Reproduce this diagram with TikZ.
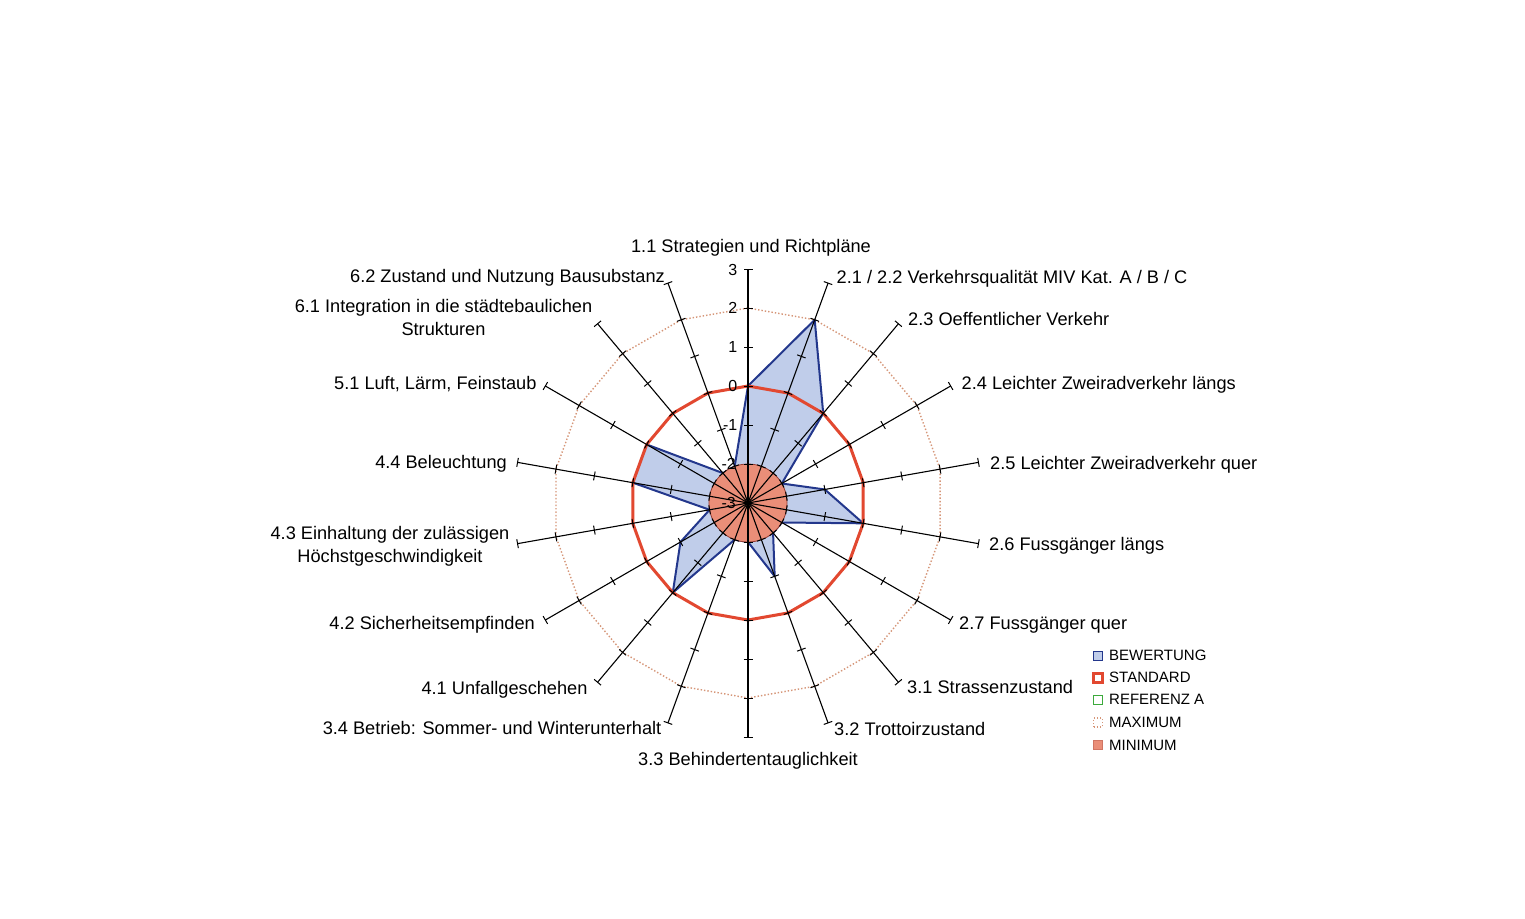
\documentclass[tikz,border=0pt]{standalone}
\usepackage{fontspec}
\setmainfont{Liberation Sans}
\usetikzlibrary{calc}
\definecolor{bewline}{RGB}{35,55,140}
\definecolor{bewfill}{RGB}{192,205,234}
\definecolor{stdred}{RGB}{226,72,48}
\definecolor{maxdot}{RGB}{214,150,120}
\definecolor{minfill}{RGB}{234,142,120}
\definecolor{minline}{RGB}{150,60,50}
\definecolor{refgreen}{RGB}{60,170,60}
\tikzset{
  lab/.style={font=\fontsize{18.2}{22.5}\selectfont, inner sep=0pt},
  ticklab/.style={font=\fontsize{16}{19}\selectfont, inner sep=0pt, anchor=base east},
  leglab/.style={font=\fontsize{15}{18}\selectfont, inner sep=0pt, anchor=base west},
  axisline/.style={black, line width=1.1pt},
  tickline/.style={black, line width=1pt},
  maxline/.style={maxdot, line width=1.4pt, dotted},
  bewpoly/.style={draw=bewline, fill=bewfill, line width=2pt, line join=round},
  stdpoly/.style={draw=stdred, line width=3pt, line join=round},
  minpoly/.style={draw=minline, fill=minfill, line width=0.8pt},
  legbox/.style={minimum size=9pt, inner sep=0pt},
}
\begin{document}
\begin{tikzpicture}[x=1pt,y=-1pt]
\useasboundingbox (0,0) rectangle (1525,918);
\fill[white] (0,0) rectangle (1525,918);
\coordinate (C) at (748,503);
% axis end, standard and maximum coordinates
\foreach \i in {0,...,17} {
  \pgfmathsetmacro\t{20*\i}
  \coordinate (E\i) at ($(C)+({234*sin(\t)},{-234*cos(\t)})$);
  \coordinate (S\i) at ($(C)+({117*sin(\t)},{-117*cos(\t)})$);
  \coordinate (M\i) at ($(C)+({195*sin(\t)},{-195*cos(\t)})$);
}
% Bewertung values
\foreach \v [count=\i from 0] in {0,2,0,-2,-1,0,-2,-2,-1,-2,-2,0,-1,-2,0,0,-2,-2} {
  \pgfmathsetmacro\t{20*\i}
  \pgfmathsetmacro\r{(\v+3)*39}
  \coordinate (B\i) at ($(C)+({\r*sin(\t)},{-\r*cos(\t)})$);
}
% maximum
\draw[maxline] (M0) \foreach \i in {1,...,17} { -- (M\i) } -- cycle;
% bewertung fill
\fill[bewfill] (B0) \foreach \i in {1,...,17} { -- (B\i) } -- cycle;
\draw[bewpoly, fill=none] (B0) \foreach \i in {1,...,17} { -- (B\i) } -- cycle;
% standard
\draw[stdpoly] (S0) \foreach \i in {1,...,17} { -- (S\i) } -- cycle;
% minimum
\draw[minpoly] (C) circle[radius=39];
% axes and ticks
\foreach \i in {0,...,17} {
  \pgfmathsetmacro\t{20*\i}
  \draw[axisline] (C) -- (E\i);
  \foreach \k in {1,...,6} {
    \draw[tickline] ($(C)+({39*\k*sin(\t)+4.5*cos(\t)},{-39*\k*cos(\t)+4.5*sin(\t)})$)
                 -- ($(C)+({39*\k*sin(\t)-4.5*cos(\t)},{-39*\k*cos(\t)-4.5*sin(\t)})$);
  }
}
\fill[black] (C) circle[radius=2.5];
% scale labels
\node[ticklab] (t3) at (737.5,275.7) {3};
\node[ticklab] (t2) at (737.5,313.7) {2};
\node[ticklab] (t1) at (737.5,352.7) {1};
\node[ticklab] (t0) at (737.5,391.7) {0};
\node[ticklab] (tm1) at (737.5,430.7) {-1};
\node[ticklab] (tm2) at (736,469.7) {-2};
\node[ticklab] (tm3) at (736,508.7) {-3};
% axis labels
\node[lab, anchor=base] (l0) at (751,252.5) {1.1 Strategien und Richtpläne};
\node[lab, anchor=base west] (l1) at (836.5,283) {2.1 / 2.2 Verkehrsqualität MIV Kat. A / B / C};
\node[lab, anchor=base west] (l2) at (908,325.5) {2.3 Oeffentlicher Verkehr};
\node[lab, anchor=base west] (l3) at (961.5,389.5) {2.4 Leichter Zweiradverkehr längs};
\node[lab, anchor=base west] (l4) at (990,469) {2.5 Leichter Zweiradverkehr quer};
\node[lab, anchor=base west] (l5) at (989,550.5) {2.6 Fussgänger längs};
\node[lab, anchor=base west] (l6) at (959,629.5) {2.7 Fussgänger quer};
\node[lab, anchor=base west] (l7) at (907,693.5) {3.1 Strassenzustand};
\node[lab, anchor=base west] (l8) at (834,735) {3.2 Trottoirzustand};
\node[lab, anchor=base] (l9) at (748,765.5) {3.3 Behindertentauglichkeit};
\node[lab, anchor=base east] (l10) at (661.5,734.8) {3.4 Betrieb: Sommer- und Winterunterhalt};
\node[lab, anchor=base east] (l11) at (587.7,694) {4.1 Unfallgeschehen};
\node[lab, anchor=base east] (l12) at (535,629) {4.2 Sicherheitsempfinden};
\node[lab, align=center, anchor=north] (l13) at (390,526.2) {4.3 Einhaltung der zulässigen\\Höchstgeschwindigkeit};
\node[lab, anchor=base east] (l14) at (507,468) {4.4 Beleuchtung};
\node[lab, anchor=base east] (l15) at (536.7,389) {5.1 Luft, Lärm, Feinstaub};
\node[lab, align=center, anchor=north] (l16) at (443.5,299.5) {6.1 Integration in die städtebaulichen\\Strukturen};
\node[lab, anchor=base east] (l17) at (665,282.5) {6.2 Zustand und Nutzung Bausubstanz};
% legend
\node[legbox, draw=bewline, fill=bewfill, line width=1.6pt] (g1) at (1098,656) {};
\node[legbox, draw=stdred, fill=white, line width=2.6pt] (g2) at (1098,678) {};
\node[legbox, draw=refgreen, fill=white, line width=0.9pt] (g3) at (1098,700) {};
\node[legbox, draw=maxdot, dotted, line width=1.2pt] (g4) at (1098,722.5) {};
\node[legbox, fill=minfill, draw=minfill!70!minline, line width=0.6pt] (g5) at (1098,745) {};
\node[leglab] (g1t) at (1109,660.8) {BEWERTUNG};
\node[leglab] (g2t) at (1109,682.8) {STANDARD};
\node[leglab] (g3t) at (1109,704.8) {REFERENZ A};
\node[leglab] (g4t) at (1109,727.3) {MAXIMUM};
\node[leglab] (g5t) at (1109,750.3) {MINIMUM};
\end{tikzpicture}
\end{document}
